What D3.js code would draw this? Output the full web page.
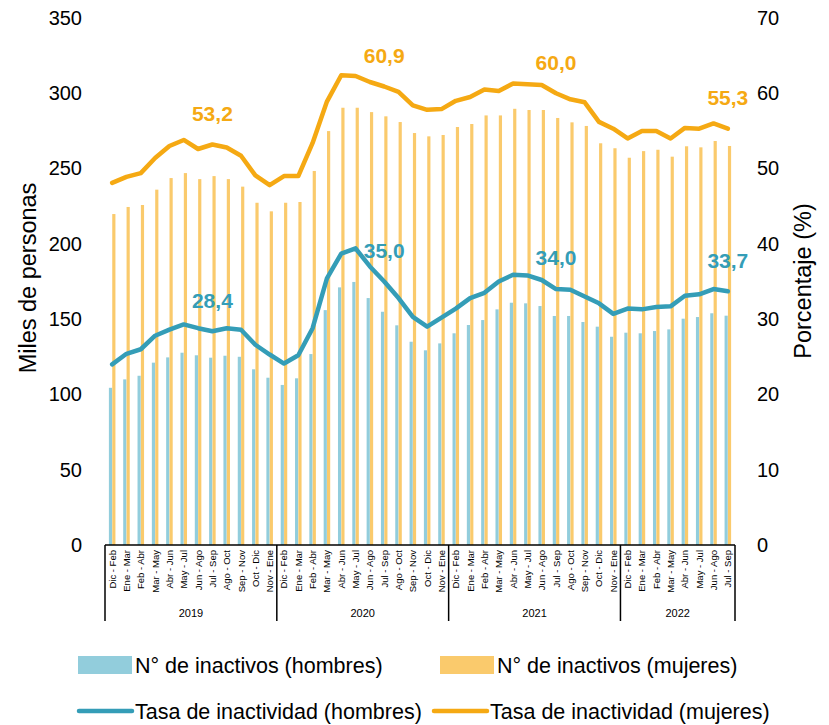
<!DOCTYPE html>
<html>
<head>
<meta charset="utf-8">
<script src="https://cdn.jsdelivr.net/npm/d3@7"></script>
<style>
  body { margin: 0; background: #fff; }
  text { font-family: "Liberation Sans", Arial, sans-serif; fill: #000; }
</style>
</head>
<body>
<script>
// Inactivos y tasa de inactividad por sexo, trimestres moviles 2019-2022

var months = ["Dic - Feb", "Ene - Mar", "Feb - Abr", "Mar - May", "Abr - Jun", "May - Jul",
              "Jun - Ago", "Jul - Sep", "Ago - Oct", "Sep - Nov", "Oct - Dic", "Nov - Ene"];
var years = ["2019", "2020", "2021", "2022"];
var perYear = [12, 12, 12, 8];

// N° de inactivos (miles)
var inactHombres = [104.4, 110, 112.4, 121.1, 124.6, 127.7, 126, 124.4, 125.7, 125, 116.7, 111.1,
                    106.3, 110.7, 126.8, 156, 171.1, 174.7, 164, 154.9, 145.9, 135, 129.3, 133.9,
                    140.6, 146.1, 149.4, 156.5, 160.9, 160.5, 158.7, 152.1, 152.1, 148.1, 145, 138.3,
                    141.0, 140.6, 142.1, 143.2, 150.3, 151.4, 153.9, 152.3];
var inactMujeres = [219.8, 224.5, 225.8, 236, 243.7, 247, 243, 245, 243, 238, 227.3, 221.6,
                    227.3, 227.8, 248.4, 274.9, 290.4, 290.4, 287.5, 284.7, 280.9, 273.6, 271.4, 272.3,
                    277.6, 279.6, 285.3, 285.3, 289.7, 288.9, 288.9, 283.6, 280.7, 278.3, 266.8, 263.5,
                    257.2, 261.6, 262.5, 257.9, 264.8, 264.1, 268.3, 265];
// Tasa de inactividad (%)
var tasaHombres = [24.0, 25.4, 26.0, 27.8, 28.6, 29.3, 28.8, 28.4, 28.8, 28.6, 26.6, 25.3,
                   24.1, 25.2, 28.8, 35.4, 38.7, 39.4, 37.0, 35.0, 32.8, 30.3, 29.0, 30.2,
                   31.4, 32.8, 33.5, 35.0, 35.9, 35.8, 35.2, 34.0, 33.9, 33.0, 32.1, 30.7,
                   31.4, 31.3, 31.6, 31.7, 33.1, 33.3, 34.0, 33.7];
var tasaMujeres = [48.1, 48.9, 49.4, 51.4, 53.0, 53.8, 52.6, 53.2, 52.8, 51.7, 49.1, 47.8,
                   49.0, 49.0, 53.4, 58.9, 62.4, 62.3, 61.5, 60.9, 60.2, 58.4, 57.8, 57.9,
                   59.0, 59.5, 60.5, 60.3, 61.3, 61.2, 61.1, 60.0, 59.2, 58.8, 56.2, 55.3,
                   54.0, 55.0, 55.0, 54.0, 55.4, 55.3, 56.0, 55.3];
// periodos con etiqueta (Jul - Sep de cada año)
var labelIdx = [7, 19, 31, 43];

var leftTicks = [0, 50, 100, 150, 200, 250, 300, 350];
var rightTicks = [0, 10, 20, 30, 40, 50, 60, 70];

var colBarH = "#92CDDC", colBarM = "#FACA6C",
    colLineH = "#349DB7", colLineM = "#F5A913";

var width = 829, height = 725,
    svg = d3.select("body").append("svg")
      .attr("width", width)
      .attr("height", height);

var cats = [];
years.forEach(function(y, i) {
  for (var k = 0; k < perYear[i]; k++) cats.push({ year: y, label: months[k] });
});
var idx = d3.range(cats.length);

var x = d3.scaleBand().domain(idx).range([105, 735]).padding(0);
var x1 = d3.scaleBand().domain(["h", "m"]).range([0, x.bandwidth()])
    .paddingInner(0.05).paddingOuter(1.16);
var y = d3.scaleLinear().domain([0, 350]).range([545, 18]);
var y2 = d3.scaleLinear().domain([0, 70]).range([545, 18]);

// ejes verticales (solo etiquetas)
svg.append("g")
    .attr("transform", "translate(92,0)")
    .call(d3.axisLeft(y).tickValues(leftTicks).tickSize(0).tickPadding(10))
    .call(function(g) { g.select(".domain").remove(); })
    .selectAll("text").attr("font-size", 20).attr("font-family", "Liberation Sans, Arial");

svg.append("g")
    .attr("transform", "translate(747,0)")
    .call(d3.axisRight(y2).tickValues(rightTicks).tickSize(0).tickPadding(10))
    .call(function(g) { g.select(".domain").remove(); })
    .selectAll("text").attr("font-size", 20).attr("font-family", "Liberation Sans, Arial");

svg.append("text")
    .attr("transform", "translate(36,278) rotate(-90)")
    .attr("text-anchor", "middle")
    .attr("font-size", 23.5)
    .text("Miles de personas");

svg.append("text")
    .attr("transform", "translate(811,281) rotate(-90)")
    .attr("text-anchor", "middle")
    .attr("font-size", 23.5)
    .text("Porcentaje (%)");

// barras
var bars = svg.append("g");
bars.selectAll(".bh")
  .data(idx)
  .enter().append("rect")
    .attr("x", function(i) { return x(i) + x1("h"); })
    .attr("y", function(i) { return y(inactHombres[i]); })
    .attr("width", x1.bandwidth())
    .attr("height", function(i) { return y(0) - y(inactHombres[i]); })
    .attr("fill", colBarH);
bars.selectAll(".bm")
  .data(idx)
  .enter().append("rect")
    .attr("x", function(i) { return x(i) + x1("m"); })
    .attr("y", function(i) { return y(inactMujeres[i]); })
    .attr("width", x1.bandwidth())
    .attr("height", function(i) { return y(0) - y(inactMujeres[i]); })
    .attr("fill", colBarM);

// lineas
function cx(i) { return x(i) + x.bandwidth() / 2; }
var line = function(vals) {
  return d3.line().x(function(i) { return cx(i); }).y(function(i) { return y2(vals[i]); })(idx);
};
svg.append("path").attr("d", line(tasaHombres))
    .attr("fill", "none").attr("stroke", colLineH).attr("stroke-width", 4.5)
    .attr("stroke-linejoin", "round").attr("stroke-linecap", "round");
svg.append("path").attr("d", line(tasaMujeres))
    .attr("fill", "none").attr("stroke", colLineM).attr("stroke-width", 4.5)
    .attr("stroke-linejoin", "round").attr("stroke-linecap", "round");

var fmt = function(v) { return d3.format(".1f")(v).replace(".", ","); };
[[tasaHombres, colLineH], [tasaMujeres, colLineM]].forEach(function(s) {
  svg.append("g").selectAll("text")
    .data(labelIdx)
    .enter().append("text")
      .attr("x", function(i) { return cx(i); })
      .attr("y", function(i) { return y2(s[0][i]) - 31; })
      .attr("dy", "0.35em")
      .attr("text-anchor", "middle")
      .attr("font-size", 21)
      .attr("font-weight", "bold")
      .style("fill", s[1])
      .text(function(i) { return fmt(s[0][i]); });
});

// eje x agrupado por año
var axis = svg.append("g");
axis.append("line")
    .attr("x1", 105).attr("x2", 735).attr("y1", 545).attr("y2", 545)
    .attr("stroke", "#000").attr("stroke-width", 1.5);

var start = 0, bounds = [0];
perYear.forEach(function(n) { start += n; bounds.push(start); });
axis.selectAll(".sep")
  .data(bounds)
  .enter().append("line")
    .attr("x1", function(b) { return b < cats.length ? x(b) : x(b - 1) + x.bandwidth(); })
    .attr("x2", function(b) { return b < cats.length ? x(b) : x(b - 1) + x.bandwidth(); })
    .attr("y1", 545).attr("y2", 621)
    .attr("stroke", "#000").attr("stroke-width", 1.5);

axis.selectAll(".cat")
  .data(idx)
  .enter().append("text")
    .attr("transform", function(i) { return "translate(" + (cx(i) + 3.5) + ",550) rotate(-90)"; })
    .attr("text-anchor", "end")
    .attr("font-size", 9.5)
    .text(function(i) { return cats[i].label; });

axis.selectAll(".yr")
  .data(years)
  .enter().append("text")
    .attr("x", function(d, k) { return (x(bounds[k]) + x(bounds[k + 1] - 1) + x.bandwidth()) / 2; })
    .attr("y", 617)
    .attr("text-anchor", "middle")
    .attr("font-size", 11)
    .text(function(d) { return d; });

// leyenda
var legend = [
  { type: "rect", color: colBarH, label: "N° de inactivos (hombres)", x: 78, y: 665 },
  { type: "rect", color: colBarM, label: "N° de inactivos (mujeres)", x: 440, y: 665 },
  { type: "line", color: colLineH, label: "Tasa de inactividad (hombres)", x: 78, y: 711 },
  { type: "line", color: colLineM, label: "Tasa de inactividad (mujeres)", x: 433, y: 711 }
];
var lg = svg.append("g").selectAll("g")
  .data(legend)
  .enter().append("g")
    .attr("transform", function(d) { return "translate(" + d.x + "," + d.y + ")"; });
lg.filter(function(d) { return d.type == "rect"; }).append("rect")
    .attr("x", 0).attr("y", -9).attr("width", 54).attr("height", 18)
    .attr("fill", function(d) { return d.color; });
lg.filter(function(d) { return d.type == "line"; }).append("line")
    .attr("x1", 1).attr("x2", 54).attr("y1", 0).attr("y2", 0)
    .attr("stroke", function(d) { return d.color; })
    .attr("stroke-width", 4.5).attr("stroke-linecap", "round");
lg.append("text")
    .attr("x", 57).attr("y", 0).attr("dy", "0.35em")
    .attr("font-size", 21.5)
    .text(function(d) { return d.label; });
</script>
</body>
</html>
